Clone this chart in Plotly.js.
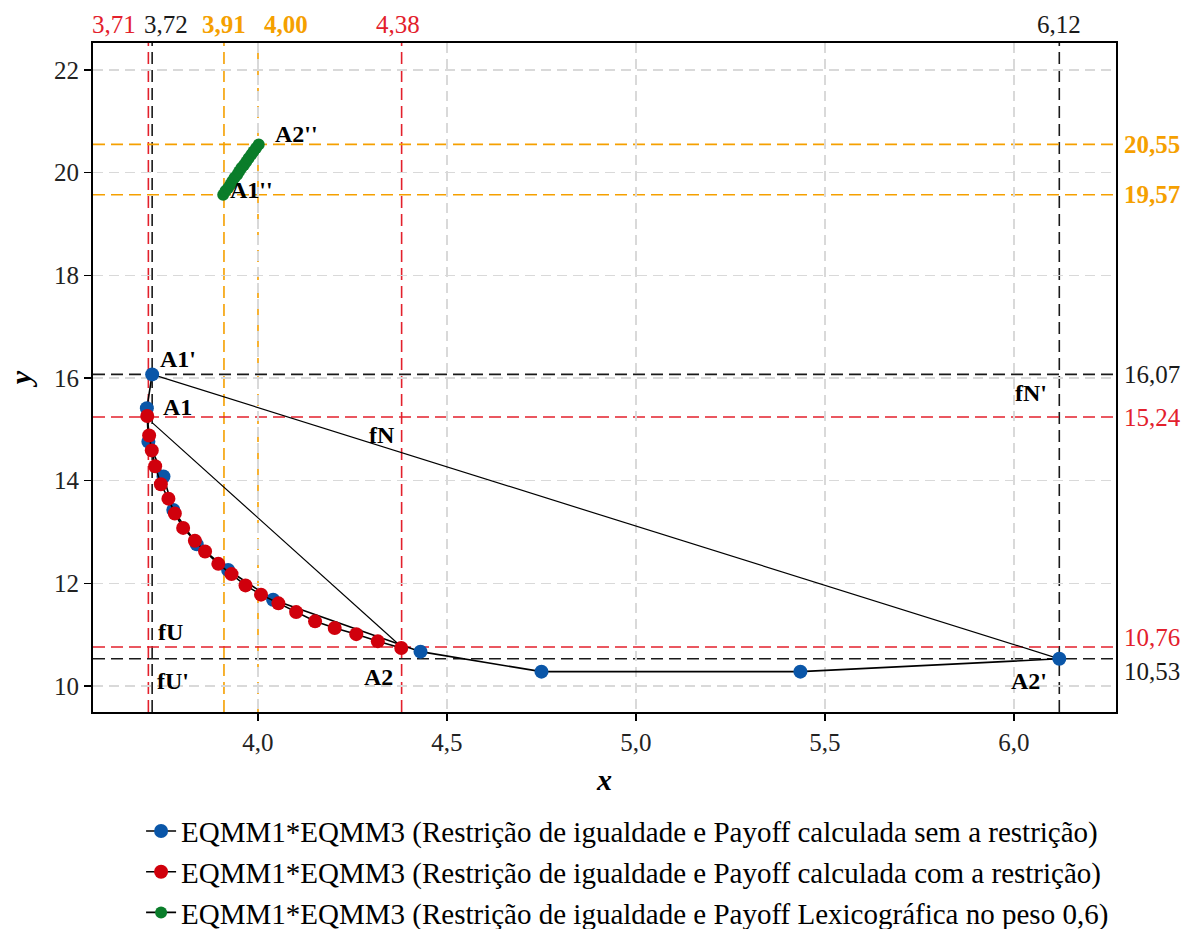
<!DOCTYPE html>
<html>
<head>
<meta charset="utf-8">
<script src="https://cdn.plot.ly/plotly-3.0.1.min.js"></script>
<style>html,body{margin:0;padding:0;background:#fff;}</style>
</head>
<body>
<div id="chart" style="width:1200px;height:929px;"></div>
<script>
// ---------------- DATA ----------------
const seriesNames = [
  "EQMM1*EQMM3 (Restrição de igualdade e Payoff calculada sem a restrição)",
  "EQMM1*EQMM3 (Restrição de igualdade e Payoff calculada com a restrição)",
  "EQMM1*EQMM3 (Restrição de igualdade e Payoff Lexicográfica no peso 0,6)"
];
// Series 1 (blue): payoff without restriction
const blueX = [3.72, 3.706, 3.71, 3.75, 3.776, 3.838, 3.921, 4.04, 4.43, 4.75, 5.435, 6.12];
const blueY = [16.07, 15.41, 14.76, 14.08, 13.43, 12.76, 12.26, 11.68, 10.67, 10.28, 10.28, 10.53];
// Series 2 (red): payoff with restriction
const redX = [3.707, 3.712, 3.719, 3.728, 3.743, 3.763, 3.780, 3.802, 3.833, 3.860, 3.895, 3.930, 3.967, 4.008, 4.054, 4.101, 4.151, 4.203, 4.260, 4.317, 4.379];
const redY = [15.26, 14.88, 14.59, 14.28, 13.93, 13.65, 13.36, 13.08, 12.83, 12.62, 12.38, 12.18, 11.96, 11.78, 11.61, 11.44, 11.26, 11.13, 11.01, 10.87, 10.74];
// Series 3 (green): lexicographic payoff, weight 0.6
const greenX = [3.908, 3.914, 3.921, 3.927, 3.932, 3.938, 3.945, 3.950, 3.956, 3.963, 3.969, 3.975, 3.982, 3.988, 3.995, 4.002];
const greenY = [19.57, 19.64, 19.70, 19.77, 19.83, 19.90, 19.96, 20.02, 20.09, 20.15, 20.21, 20.28, 20.35, 20.41, 20.48, 20.55];
// Nadir/utopia connecting lines
const lineNX = [3.72, 6.12];   // A1' -> A2'
const lineNY = [16.07, 10.53];
const lineUX = [3.72, 4.38];   // A1 -> A2
const lineUY = [15.13, 10.76];
// Reference lines
const refXVals = [3.71, 3.72, 3.91, 4.00, 4.38, 6.12];
const refYVals = [20.55, 19.57, 16.07, 15.24, 10.76, 10.53];
// Axis ticks
const xTicks = [4.0, 4.5, 5.0, 5.5, 6.0];
const yTicks = [10, 12, 14, 16, 18, 20, 22];
// Point labels
const ptLabels = ["A1'", "A1", "fN", "fN'", "fU", "fU'", "A2", "A2'", "A1''", "A2''"];
const ptLabelX = [3.788, 3.787, 4.329, 6.045, 3.769, 3.776, 4.318, 6.040, 3.984, 4.101];
const ptLabelY = [16.37, 15.44, 14.88, 15.70, 11.05, 10.09, 10.18, 10.09, 19.66, 20.76];

// ---------------- STYLE ----------------
const SERIF = '"Liberation Serif", "Times New Roman", Times, serif';
const BLUE = '#0a56a8', RED = '#d0000c', GREEN = '#0a7d2a';
const ORANGE = '#f5a000', REFRED = '#e3202c', REFBLACK = '#1a1a1a';
const refXColor = {"3.71": REFRED, "3.72": REFBLACK, "3.91": ORANGE, "4": ORANGE, "4.38": REFRED, "6.12": REFBLACK};
const refYColor = {"20.55": ORANGE, "19.57": ORANGE, "16.07": REFBLACK, "15.24": REFRED, "10.76": REFRED, "10.53": REFBLACK};
const topShift = {"3.71": -34, "3.72": 14, "3.91": 0, "4": 28, "4.38": -4, "6.12": 0};
const topBold = {"3.91": true, "4": true};
const rightShiftY = {"20.55": 0, "19.57": 0, "16.07": 0, "15.24": 0, "10.76": 10, "10.53": -13};
const rightBold = {"20.55": true, "19.57": true};
const fmt = v => v.toFixed(2).replace('.', ',');

const traces = [
  {x: lineNX, y: lineNY, mode: 'lines', line: {color: '#000', width: 1.2}, showlegend: false, hoverinfo: 'skip'},
  {x: lineUX, y: lineUY, mode: 'lines', line: {color: '#000', width: 1.2}, showlegend: false, hoverinfo: 'skip'},
  {x: blueX, y: blueY, name: seriesNames[0], mode: 'lines+markers',
   line: {color: '#000', width: 1.6}, marker: {color: BLUE, size: 14, symbol: 'circle'}},
  {x: redX, y: redY, name: seriesNames[1], mode: 'lines+markers',
   line: {color: '#000', width: 1.6}, marker: {color: RED, size: 14, symbol: 'circle'}},
  {x: greenX, y: greenY, name: seriesNames[2], mode: 'lines+markers',
   line: {color: '#000', width: 1.6}, marker: {color: GREEN, size: 12, symbol: 'circle'}}
];

const shapes = [];
refXVals.forEach(v => shapes.push({type: 'line', xref: 'x', yref: 'paper', x0: v, x1: v, y0: 0, y1: 1,
  layer: 'below', line: {color: refXColor[String(v)], width: 1.6, dash: '12px,6px'}}));
refYVals.forEach(v => shapes.push({type: 'line', xref: 'paper', yref: 'y', x0: 0, x1: 1, y0: v, y1: v,
  layer: 'below', line: {color: refYColor[String(v)], width: 1.6, dash: '12px,6px'}}));

const annotations = [];
refXVals.forEach(v => annotations.push({text: topBold[String(v)] ? '<b>' + fmt(v) + '</b>' : fmt(v),
  xref: 'x', yref: 'paper', x: v, y: 1,
  xanchor: 'center', yanchor: 'bottom', yshift: 3, xshift: topShift[String(v)], showarrow: false,
  font: {family: SERIF, size: 25, color: refXColor[String(v)]}}));
refYVals.forEach(v => annotations.push({text: rightBold[String(v)] ? '<b>' + fmt(v) + '</b>' : fmt(v),
  xref: 'paper', yref: 'y', x: 1, y: v, xanchor: 'left', yanchor: 'middle', xshift: 6,
  yshift: rightShiftY[String(v)], showarrow: false,
  font: {family: SERIF, size: 25, color: refYColor[String(v)]}}));
ptLabels.forEach((t, i) => annotations.push({text: '<b>' + t + '</b>', xref: 'x', yref: 'y',
  x: ptLabelX[i], y: ptLabelY[i], xanchor: 'center', yanchor: 'middle', showarrow: false,
  font: {family: SERIF, size: 24, color: '#000'}}));

const layout = {
  width: 1200, height: 929,
  margin: {l: 93, r: 84, t: 43, b: 217, autoexpand: false},
  paper_bgcolor: '#fff', plot_bgcolor: '#fff',
  separators: ', ',
  font: {family: SERIF, size: 25, color: '#111'},
  showlegend: true,
  legend: {orientation: 'v', x: 0.047, xanchor: 'left', y: -0.14, yanchor: 'top',
    font: {family: SERIF, size: 29, color: '#000'}, bgcolor: 'rgba(0,0,0,0)'},
  xaxis: {range: [3.5635, 6.27], tickvals: xTicks, tickformat: '.1f',
    showgrid: true, gridcolor: '#d9d9d9', griddash: '10px,6px', gridwidth: 1.2,
    zeroline: false, showline: true, mirror: true, linecolor: '#000', linewidth: 2,
    ticks: 'outside', ticklen: 7, tickwidth: 1.5, tickcolor: '#000',
    tickfont: {family: SERIF, size: 25, color: '#222'},
    title: {text: '<b><i>x</i></b>', font: {family: SERIF, size: 30, color: '#000'}, standoff: 14}},
  yaxis: {range: [9.494, 22.525], tickvals: yTicks,
    showgrid: true, gridcolor: '#d9d9d9', griddash: '10px,6px', gridwidth: 1.2,
    zeroline: false, showline: true, mirror: true, linecolor: '#000', linewidth: 2,
    ticks: 'outside', ticklen: 7, tickwidth: 1.5, tickcolor: '#000',
    tickfont: {family: SERIF, size: 25, color: '#222'},
    title: {text: '<b><i>y</i></b>', font: {family: SERIF, size: 30, color: '#000'}, standoff: 14}},
  shapes: shapes,
  annotations: annotations
};

Plotly.newPlot('chart', traces, layout, {displayModeBar: false, staticPlot: true});
</script>
</body>
</html>
